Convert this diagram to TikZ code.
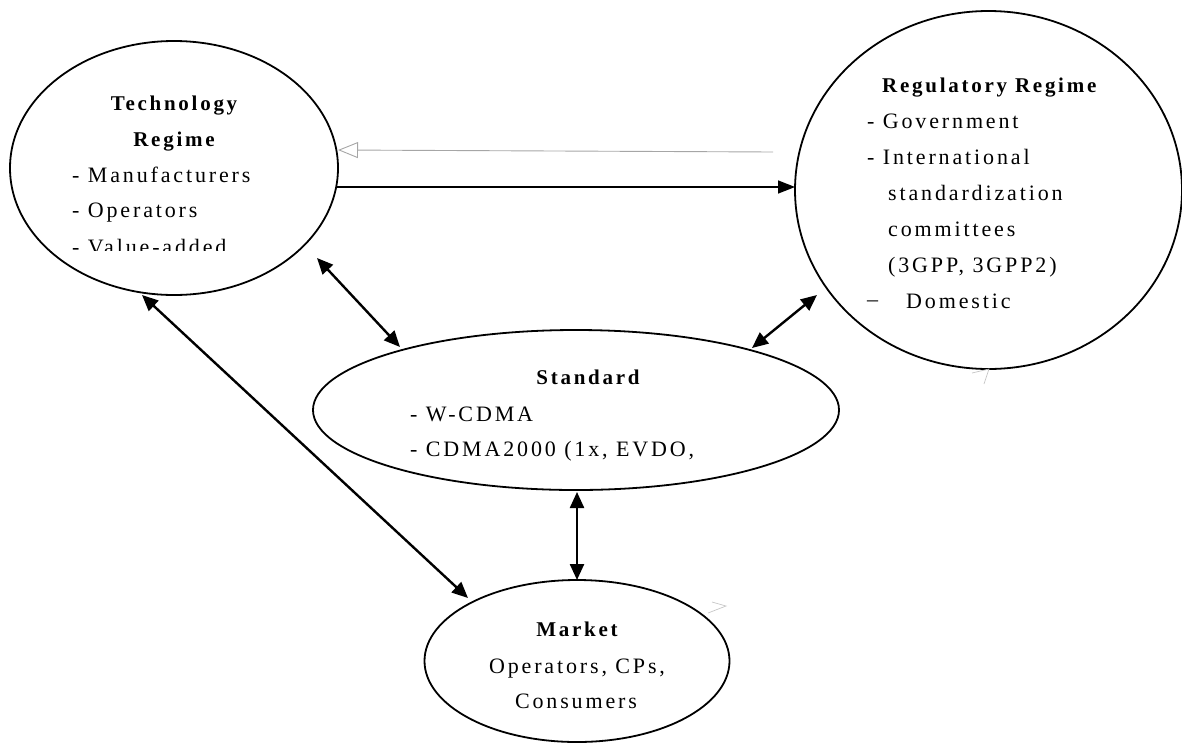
\documentclass[tikz,border=0pt]{standalone}
\usepackage{fontspec}
\setmainfont{Liberation Serif}[LetterSpace=13]
\usetikzlibrary{shapes.geometric,arrows.meta}
\begin{document}
\begin{tikzpicture}[x=1pt,y=-1pt,
  oval/.style={draw,ellipse,line width=1.8pt,inner sep=0pt},
  txt/.style={inner sep=0pt,font=\fontsize{22}{26}\selectfont},
  hd/.style={inner sep=0pt,font=\fontsize{21}{26}\selectfont\bfseries},
  dbl/.style={line width=2.4pt,{Triangle[length=16pt,width=14pt]}-{Triangle[length=16pt,width=14pt]}},
  solidarrow/.style={line width=1.6pt,-{Triangle[length=17pt,width=13pt]}},
  greyarrow/.style={draw=gray!70,line width=0.9pt,-{Triangle[open,length=20pt,width=16pt]}},
  faint/.style={draw=gray!45,line width=0.7pt}]
\useasboundingbox (0,0) rectangle (1182,742);

% ellipses
\node[oval,minimum width=328pt,minimum height=254pt] (tech) at (174,168) {};
\node[oval,minimum width=387pt,minimum height=358pt] (reg) at (988.5,190) {};
\node[oval,minimum width=526pt,minimum height=160pt] (std) at (576,410) {};
\node[oval,minimum width=305pt,minimum height=162pt] (mkt) at (577,661) {};

% Technology regime text
\node[hd,anchor=base] (t1) at (174,110) {Technology};
\node[hd,anchor=base] (t2) at (174,146) {Regime};
\node[txt,anchor=base west] (t3) at (72,182) {-\ Manufacturers};
\node[txt,anchor=base west] (t4) at (72,217) {-\ Operators};
\begin{scope}
  \clip (0,0) rectangle (400,250);
  \node[txt,anchor=base west] (t5) at (72,254) {-\ Value-added};
\end{scope}

% Regulatory regime text
\node[hd,anchor=base west] (r1) at (882,92) {Regulatory Regime};
\node[txt,anchor=base west] (r2) at (867,128) {-\ Government};
\node[txt,anchor=base west] (r3) at (867,164) {-\ International};
\node[txt,anchor=base west] (r4) at (888,200) {standardization};
\node[txt,anchor=base west] (r5) at (888,236) {committees};
\node[txt,anchor=base west] (r6) at (888,272) {(3GPP, 3GPP2)};
\node[txt,anchor=base west] (r7) at (867,306) {--};
\node[txt,anchor=base west] (r8) at (906,308) {Domestic};

% Standard text
\node[hd,anchor=base] (s1) at (588,384) {Standard};
\node[txt,anchor=base west] (s2) at (410,421) {-\ W-CDMA};
\node[txt,anchor=base west] (s3) at (410,456) {-\ CDMA2000 (1x, EVDO,};

% Market text
\node[hd,anchor=base] (m1) at (577,636) {Market};
\node[txt,anchor=base] (m2) at (577,673) {Operators, CPs,};
\node[txt,anchor=base] (m3) at (576,708) {Consumers};

% connector end points
\coordinate (g1) at (773,152);
\coordinate (g2) at (338,150);
\coordinate (b1) at (336,187);
\coordinate (b2) at (795,187);
\coordinate (ts1) at (317,258);
\coordinate (ts2) at (400,347);
\coordinate (tm1) at (142,295);
\coordinate (tm2) at (468,598);
\coordinate (sr1) at (752,348);
\coordinate (sr2) at (817,295);
\coordinate (sm1) at (577,492);
\coordinate (sm2) at (577,580);

\draw[greyarrow] (g1) -- (g2);
\draw[solidarrow] (b1) -- (b2);
\draw[dbl] (ts1) -- (ts2);
\draw[dbl] (tm1) -- (tm2);
\draw[dbl] (sr1) -- (sr2);
\draw[dbl] (sm1) -- (sm2);

% faint remnants
\coordinate (f1) at (972,373);
\coordinate (f2) at (989,369);
\coordinate (f3) at (984,384);
\draw[faint] (f1) -- (f2) -- (f3);
\coordinate (f4) at (712,602);
\coordinate (f5) at (726,606);
\coordinate (f6) at (708,613);
\draw[faint] (f4) -- (f5) -- (f6);
\end{tikzpicture}
\end{document}
